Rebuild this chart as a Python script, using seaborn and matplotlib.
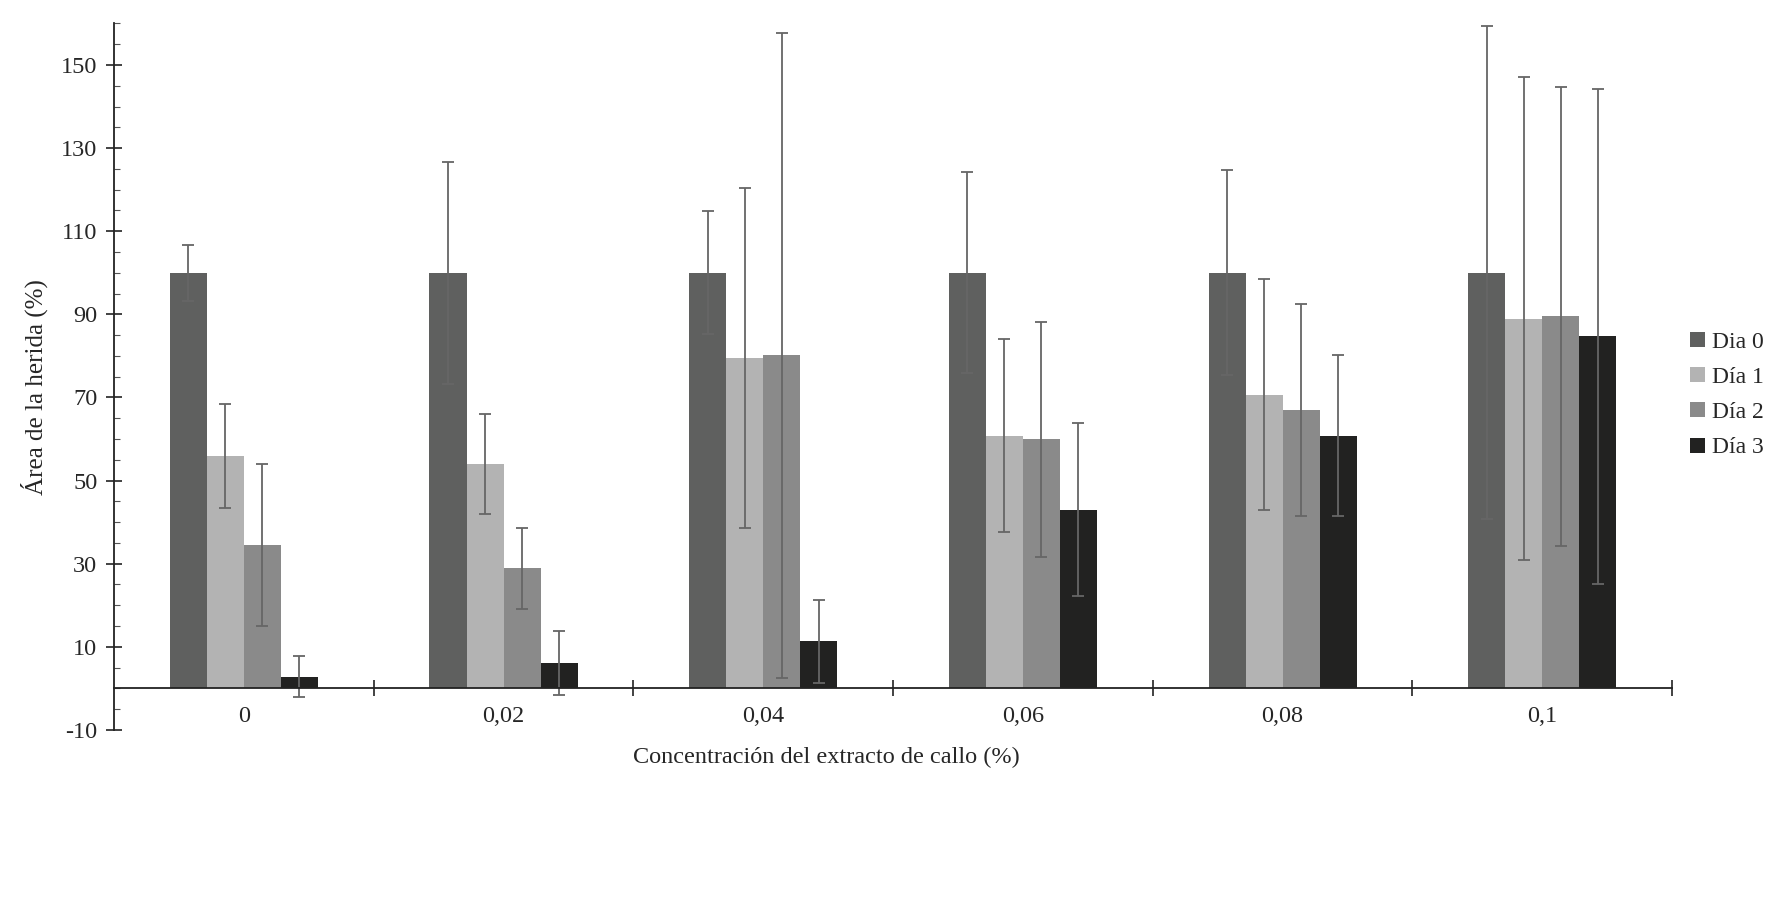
import pandas as pd
import matplotlib.pyplot as plt
import seaborn as sns
from matplotlib.ticker import MultipleLocator, FixedLocator
from matplotlib.patches import Patch

# datos
concentraciones = ["0", "0,02", "0,04", "0,06", "0,08", "0,1"]
dias = ["Dia 0", "Día 1", "Día 2", "Día 3"]

dia0 = [100, 100, 100, 100, 100, 100]
dia1 = [56, 54, 79.6, 60.8, 70.6, 88.9]
dia2 = [34.5, 28.9, 80.1, 59.9, 67, 89.5]
dia3 = [2.8, 6, 11.3, 43, 60.8, 84.7]

err0 = [6.7, 26.7, 14.8, 24.2, 24.7, 59.3]
err1 = [12.5, 12, 40.9, 23.2, 27.8, 58.1]
err2 = [19.4, 9.8, 77.7, 28.3, 25.6, 55.2]
err3 = [5, 7.7, 10, 20.8, 19.4, 59.6]

colores = ["#5f605f", "#b3b3b3", "#8a8a8a", "#222221"]

valores = [dia0, dia1, dia2, dia3]
errores = [err0, err1, err2, err3]

df = pd.DataFrame({
    "conc": concentraciones * len(dias),
    "dia": [d for d in dias for _ in concentraciones],
    "area": [v for serie in valores for v in serie],
})

sns.set_style("white")
plt.rcParams["font.family"] = ["Liberation Serif", "DejaVu Serif"]
plt.rcParams["axes.unicode_minus"] = False

fig = plt.figure(figsize=(17.89, 9), dpi=100)
ax = fig.add_axes([0.0637, 0.189, 0.871, 0.785])

sns.barplot(data=df, x="conc", y="area", hue="dia", order=concentraciones,
            hue_order=dias, palette=colores, width=0.57, errorbar=None,
            saturation=1, edgecolor="none", legend=False, ax=ax)

# barras de error
for cont, err in zip(ax.containers, errores):
    xs = [b.get_x() + b.get_width() / 2 for b in cont]
    ys = [b.get_height() for b in cont]
    ax.errorbar(xs, ys, yerr=err, fmt="none", ecolor="#666666",
                elinewidth=1.3, capsize=4.5, capthick=1.3)

ax.set_xlim(-0.5, 5.5)
ax.set_ylim(-10, 160)

ax.spines["top"].set_visible(False)
ax.spines["right"].set_visible(False)
ax.spines["bottom"].set_position(("data", 0))
ax.spines["left"].set_color("#222222")
ax.spines["bottom"].set_color("#222222")
ax.spines["left"].set_linewidth(1.3)
ax.spines["bottom"].set_linewidth(1.3)

ax.yaxis.set_major_locator(FixedLocator(range(-10, 151, 20)))
ax.yaxis.set_minor_locator(MultipleLocator(5))
ax.tick_params(axis="y", which="major", direction="inout", length=12,
               width=1.2, color="#222222", labelsize=17.5, pad=6)
ax.tick_params(axis="y", which="minor", direction="in", length=4,
               width=0.8, color="#555555")
ax.yaxis.set_ticks_position("left")

ax.xaxis.set_minor_locator(FixedLocator([0.5, 1.5, 2.5, 3.5, 4.5, 5.5]))
ax.tick_params(axis="x", which="major", length=0, labelsize=17.5, pad=13)
ax.tick_params(axis="x", which="minor", direction="inout", length=12,
               width=1.2, color="#222222")
ax.xaxis.set_ticks_position("bottom")

ax.set_xlabel("Concentración del extracto de callo (%)", fontsize=17.5,
              labelpad=14, x=0.4575)
ax.set_ylabel("Área de la herida (%)", fontsize=18, labelpad=9, y=0.485)

handles = [Patch(facecolor=c, edgecolor="none") for c in colores]
fig.legend(handles, dias, loc="center left", bbox_to_anchor=(0.933, 0.561),
           frameon=False, fontsize=17, handlelength=0.6, handleheight=0.6,
           handletextpad=0.3, labelspacing=0.6)

fig.savefig("out.png", dpi=100, facecolor="white")
